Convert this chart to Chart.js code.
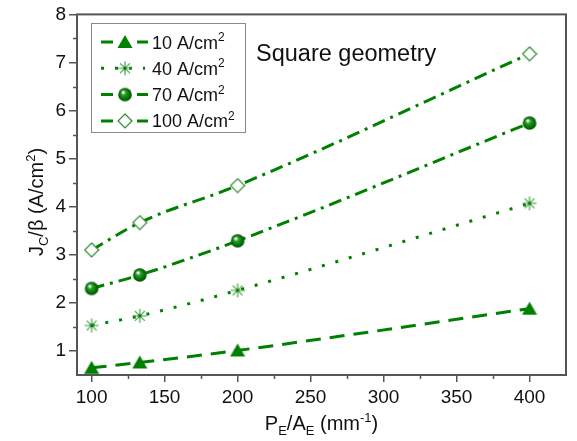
<!DOCTYPE html>
<html>
<head>
<meta charset="utf-8">
<script src="https://cdn.jsdelivr.net/npm/chart.js@4.4.1/dist/chart.umd.min.js"></script>
<style>
  html, body { margin: 0; padding: 0; background: #fff; }
  #wrap { width: 577px; height: 441px; }
</style>
</head>
<body>
<div id="wrap"><canvas id="myChart" width="577" height="441"></canvas></div>
<script>
'use strict';

// data
let xValues = [100, 133, 200, 400];
let j10 = [0.65, 0.76, 1.01, 1.88];
let j40 = [1.53, 1.73, 2.26, 4.07];
let j70 = [2.30, 2.58, 3.29, 5.74];
let j100 = [3.10, 3.67, 4.44, 7.18];
let seriesNames = ['10 A/cm', '40 A/cm', '70 A/cm', '100 A/cm'];
let xTicks = [100, 150, 200, 250, 300, 350, 400];
let xMinorTicks = [125, 175, 225, 275, 325, 375];
let yTicks = [1, 2, 3, 4, 5, 6, 7, 8];
let yMinorTicks = [1.5, 2.5, 3.5, 4.5, 5.5, 6.5, 7.5];

let FONT = '"Liberation Sans", Arial, sans-serif';
let GREEN = '#008000';

function makeMarker(kind) {
  let c = document.createElement('canvas');
  c.width = 16;
  c.height = 16;
  let g = c.getContext('2d');
  if (kind === 'triangle') {
    g.fillStyle = GREEN;
    g.beginPath();
    g.moveTo(8, 1);
    g.lineTo(15.5, 14);
    g.lineTo(0.5, 14);
    g.closePath();
    g.fill();
  } else if (kind === 'star') {
    g.strokeStyle = '#3c9c3c';
    g.lineWidth = 1.1;
    g.beginPath();
    for (let k = 0; k < 4; k++) {
      let a = k * Math.PI / 4;
      g.moveTo(8 - 7 * Math.cos(a), 8 - 7 * Math.sin(a));
      g.lineTo(8 + 7 * Math.cos(a), 8 + 7 * Math.sin(a));
    }
    g.stroke();
    g.fillStyle = '#0a6a0a';
    g.beginPath();
    g.arc(8, 8, 1.4, 0, Math.PI * 2);
    g.fill();
  } else if (kind === 'sphere') {
    let grad = g.createRadialGradient(6, 5.5, 0.5, 8, 8, 7);
    grad.addColorStop(0, '#ffffff');
    grad.addColorStop(0.3, '#2f9a2f');
    grad.addColorStop(0.75, '#007000');
    grad.addColorStop(1, '#004a00');
    g.fillStyle = grad;
    g.beginPath();
    g.arc(8, 8, 6.8, 0, Math.PI * 2);
    g.fill();
  } else {
    g.fillStyle = '#fff';
    g.strokeStyle = '#2a8a2a';
    g.lineWidth = 1.2;
    g.beginPath();
    g.moveTo(8, 1);
    g.lineTo(15, 8);
    g.lineTo(8, 15);
    g.lineTo(1, 8);
    g.closePath();
    g.fill();
    g.stroke();
  }
  return c;
}

let markers = [makeMarker('triangle'), makeMarker('star'), makeMarker('sphere'), makeMarker('diamond')];
let dashes = [[15, 9], [3, 11], [13, 6, 3, 6], [13, 6, 3, 6]];
let seriesValues = [j10, j40, j70, j100];

let datasets = [];
for (let i = 0; i < seriesValues.length; i++) {
  datasets.push({
    label: seriesNames[i],
    data: xValues.map(function (x, k) { return { x: x, y: seriesValues[i][k] }; }),
    borderColor: GREEN,
    backgroundColor: GREEN,
    borderWidth: 3,
    borderDash: dashes[i],
    cubicInterpolationMode: 'monotone',
    pointStyle: markers[i],
    pointRadius: 8
  });
}

// text with sub/superscripts: parts = [[text, 'n'|'sub'|'sup'], ...]
function richWidth(ctx, parts, size) {
  let w = 0;
  parts.forEach(function (p) {
    ctx.font = (p[1] === 'n' ? size : Math.round(size * 0.65)) + 'px ' + FONT;
    w += ctx.measureText(p[0]).width;
  });
  return w;
}
function drawRich(ctx, parts, x, y, size) {
  ctx.textBaseline = 'alphabetic';
  ctx.textAlign = 'left';
  parts.forEach(function (p) {
    let dy = 0;
    if (p[1] === 'n') {
      ctx.font = size + 'px ' + FONT;
    } else {
      ctx.font = Math.round(size * 0.65) + 'px ' + FONT;
      dy = p[1] === 'sub' ? size * 0.25 : -size * 0.42;
    }
    ctx.fillText(p[0], x, y + dy);
    x += ctx.measureText(p[0]).width;
  });
}

let extras = {
  id: 'extras',
  afterDraw: function (chart) {
    let ctx = chart.ctx;
    let a = chart.chartArea;
    let xs = chart.scales.x;
    let ys = chart.scales.y;
    ctx.save();
    // frame
    ctx.strokeStyle = '#555';
    ctx.lineWidth = 2;
    ctx.strokeRect(a.left, a.top, a.right - a.left, a.bottom - a.top);
    // minor ticks
    ctx.lineWidth = 1.5;
    ctx.beginPath();
    xMinorTicks.forEach(function (v) {
      let px = Math.round(xs.getPixelForValue(v)) + 0.5;
      ctx.moveTo(px, a.bottom);
      ctx.lineTo(px, a.bottom + 4);
    });
    yMinorTicks.forEach(function (v) {
      let py = Math.round(ys.getPixelForValue(v)) + 0.5;
      ctx.moveTo(a.left, py);
      ctx.lineTo(a.left - 4, py);
    });
    ctx.stroke();

    // axis titles
    ctx.fillStyle = '#111';
    let xt = [['P', 'n'], ['E', 'sub'], ['/A', 'n'], ['E', 'sub'], [' (mm', 'n'], ['-1', 'sup'], [')', 'n']];
    let w = richWidth(ctx, xt, 20);
    drawRich(ctx, xt, (a.left + a.right) / 2 - w / 2, 430, 20);

    let yt = [['J', 'n'], ['C', 'sub'], ['/\u03b2 (A/cm', 'n'], ['2', 'sup'], [')', 'n']];
    w = richWidth(ctx, yt, 20);
    ctx.save();
    ctx.translate(43, 202);
    ctx.rotate(-Math.PI / 2);
    drawRich(ctx, yt, -w / 2, 0, 20);
    ctx.restore();

    // legend box
    ctx.fillStyle = '#fff';
    ctx.fillRect(91, 23, 154, 110);
    ctx.strokeStyle = '#8a8a8a';
    ctx.lineWidth = 1;
    ctx.strokeRect(91.5, 23.5, 154, 109);
    chart.data.datasets.forEach(function (ds, i) {
      let cy = 42 + i * 26.3;
      ctx.strokeStyle = ds.borderColor;
      ctx.lineWidth = ds.borderWidth;
      ctx.setLineDash(i === 1 ? [3, 11] : []);
      ctx.beginPath();
      if (i === 1) {
        ctx.moveTo(101, cy);
        ctx.lineTo(145, cy);
      } else {
        ctx.moveTo(101, cy);
        ctx.lineTo(113, cy);
        ctx.moveTo(137, cy);
        ctx.lineTo(148, cy);
      }
      ctx.stroke();
      ctx.setLineDash([]);
      ctx.drawImage(ds.pointStyle, 125 - 8, cy - 8);
      ctx.fillStyle = '#111';
      drawRich(ctx, [[ds.label, 'n'], ['2', 'sup']], 152, cy + 6.5, 18);
    });

    // annotation
    ctx.fillStyle = '#111';
    ctx.font = '23.5px ' + FONT;
    ctx.textAlign = 'left';
    ctx.textBaseline = 'alphabetic';
    ctx.fillText('Square geometry', 256, 61);
    ctx.restore();
  }
};

let ctx = document.getElementById('myChart').getContext('2d');

new Chart(ctx, {
  type: 'line',
  data: { datasets: datasets },
  options: {
    responsive: false,
    animation: false,
    devicePixelRatio: 1,
    layout: { padding: { left: 0, right: 9, top: 14, bottom: 0 } },
    plugins: { legend: { display: false }, tooltip: { enabled: false } },
    scales: {
      x: {
        type: 'linear',
        min: 90,
        max: 425,
        afterBuildTicks: function (scale) {
          scale.ticks = xTicks.map(function (v) { return { value: v }; });
        },
        afterFit: function (scale) { scale.height = 66; },
        grid: { drawOnChartArea: false, drawTicks: true, tickLength: 7, color: '#555', lineWidth: 1.5 },
        border: { display: false },
        ticks: { color: '#111', font: { family: FONT, size: 19 }, padding: 4, maxRotation: 0 }
      },
      y: {
        type: 'linear',
        min: 0.5,
        max: 8,
        afterBuildTicks: function (scale) {
          scale.ticks = yTicks.map(function (v) { return { value: v }; });
        },
        afterFit: function (scale) { scale.width = 77; },
        grid: { drawOnChartArea: false, drawTicks: true, tickLength: 8, color: '#555', lineWidth: 1.5 },
        border: { display: false },
        ticks: { color: '#111', font: { family: FONT, size: 19 }, padding: 3 }
      }
    }
  },
  plugins: [extras]
});
</script>
</body>
</html>
